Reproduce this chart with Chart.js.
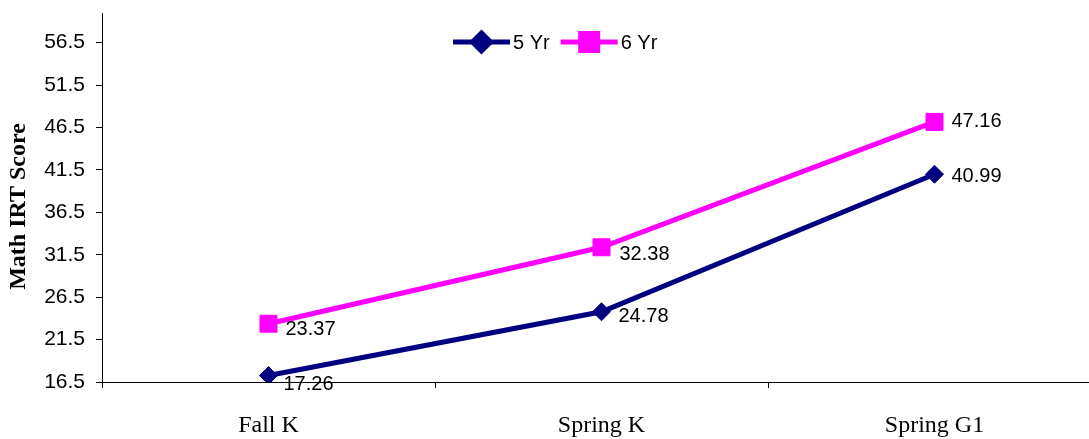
<!DOCTYPE html>
<html>
<head>
<meta charset="utf-8">
<script src="https://cdn.jsdelivr.net/npm/chart.js@4/dist/chart.umd.min.js"></script>
<style>
  html, body { margin: 0; padding: 0; background: #fff; overflow: hidden; }
  #wrap { width: 1114px; height: 439px; }
</style>
</head>
<body>
<div id="wrap"><canvas id="c" width="1114" height="439"></canvas></div>
<script>
// Survey waves on the x axis
const categories = ['Fall K', 'Spring K', 'Spring G1'];
// Mean math IRT scores by age at kindergarten entry
const fiveYr = [17.26, 24.78, 40.99];
const sixYr = [23.37, 32.38, 47.16];
// Y axis tick values
const yTicks = [16.5, 21.5, 26.5, 31.5, 36.5, 41.5, 46.5, 51.5, 56.5];

const NAVY = '#000080';
const MAGENTA = '#FF00FF';

// Value labels next to each point
const valueLabels = {
  id: 'valueLabels',
  afterDatasetsDraw(chart, args, opts) {
    const ctx = chart.ctx;
    ctx.save();
    ctx.font = '20px "Liberation Sans", Arial, sans-serif';
    ctx.fillStyle = '#000';
    ctx.textAlign = 'left';
    ctx.textBaseline = 'middle';
    chart.data.datasets.forEach((ds, di) => {
      const meta = chart.getDatasetMeta(di);
      meta.data.forEach((pt, i) => {
        const sh = opts.shift[di][i];
        ctx.fillText(ds.data[i].toFixed(2), pt.x + sh[0], pt.y + sh[1]);
      });
    });
    ctx.restore();
  }
};

// Line-and-marker legend drawn inside the plot
const lineLegend = {
  id: 'lineLegend',
  afterDraw(chart, args, opts) {
    const ctx = chart.ctx;
    ctx.save();
    ctx.font = '20px "Liberation Sans", Arial, sans-serif';
    ctx.textBaseline = 'middle';
    ctx.textAlign = 'left';
    let x = opts.x;
    const y = opts.y;
    chart.data.datasets.forEach((ds) => {
      ctx.strokeStyle = ds.borderColor;
      ctx.lineWidth = ds.borderWidth;
      ctx.beginPath();
      ctx.moveTo(x, y);
      ctx.lineTo(x + opts.lineLen, y);
      ctx.stroke();
      Chart.helpers.drawPoint(ctx, {
        pointStyle: ds.pointStyle,
        radius: ds.pointRadius,
        borderWidth: 1
      }, x + opts.lineLen / 2, y);
      ctx.fillStyle = ds.pointBackgroundColor;
      ctx.fill();
      ctx.fillStyle = '#000';
      ctx.fillText(ds.label, x + opts.lineLen + 3, y + 1);
      x += opts.lineLen + 3 + ctx.measureText(ds.label).width + 11;
    });
    ctx.restore();
  }
};

// Rotated axis title centred on the plot area
const yTitle = {
  id: 'yTitle',
  afterDraw(chart, args, opts) {
    const ctx = chart.ctx;
    const area = chart.chartArea;
    ctx.save();
    ctx.translate(opts.x, (area.top + area.bottom) / 2 + opts.dy);
    ctx.rotate(-Math.PI / 2);
    ctx.font = 'bold 24px "Liberation Serif", "Times New Roman", serif';
    ctx.fillStyle = '#000';
    ctx.textAlign = 'center';
    ctx.textBaseline = 'middle';
    ctx.fillText(opts.text, 0, 0);
    ctx.restore();
  }
};

new Chart(document.getElementById('c'), {
  type: 'line',
  data: {
    labels: categories,
    datasets: [
      {
        label: '5 Yr',
        data: fiveYr,
        borderColor: NAVY,
        backgroundColor: NAVY,
        pointBackgroundColor: NAVY,
        pointBorderColor: NAVY,
        borderWidth: 5,
        pointStyle: 'rectRot',
        pointRadius: 9,
        pointBorderWidth: 1,
        tension: 0
      },
      {
        label: '6 Yr',
        data: sixYr,
        borderColor: MAGENTA,
        backgroundColor: MAGENTA,
        pointBackgroundColor: MAGENTA,
        pointBorderColor: MAGENTA,
        borderWidth: 5,
        pointStyle: 'rect',
        pointRadius: 12,
        pointBorderWidth: 1,
        tension: 0
      }
    ]
  },
  options: {
    responsive: false,
    animation: false,
    devicePixelRatio: 1,
    layout: { padding: { left: 0, right: 11, top: 12, bottom: 0 } },
    plugins: {
      legend: { display: false },
      tooltip: { enabled: false },
      valueLabels: {
        shift: [
          [[15, 9], [17, 5], [17, 2]],
          [[17, 6], [18, 7], [17, 0]]
        ]
      },
      lineLegend: { x: 453, y: 42, lineLen: 57 },
      yTitle: { text: 'Math IRT Score', x: 19, dy: 9 }
    },
    scales: {
      x: {
        type: 'category',
        offset: true,
        grid: {
          offset: true,
          drawOnChartArea: false,
          drawTicks: true,
          tickLength: 6,
          tickColor: '#000',
          color: '#000'
        },
        border: { display: true, color: '#000', width: 1 },
        ticks: {
          color: '#000',
          padding: 23,
          font: { family: '"Liberation Serif", "Times New Roman", serif', size: 24 }
        },
        afterFit(scale) {
          scale.height = 57;
          scale.paddingLeft = 0;
          scale.paddingRight = 0;
        }
      },
      y: {
        min: 16.5,
        max: 60,
        afterBuildTicks(scale) { scale.ticks = yTicks.map(v => ({ value: v })); },
        grid: {
          drawOnChartArea: false,
          drawTicks: true,
          tickLength: 6,
          tickColor: '#000',
          color: '#000'
        },
        border: { display: true, color: '#000', width: 1 },
        ticks: {
          color: '#000',
          padding: 11,
          font: { family: '"Liberation Sans", Arial, sans-serif', size: 21 },
          callback: (v) => Number(v).toFixed(1)
        },
        afterFit(scale) {
          scale.width = 102;
          scale.paddingTop = 0;
          scale.paddingBottom = 0;
        }
      }
    }
  },
  plugins: [valueLabels, lineLegend, yTitle]
});
</script>
</body>
</html>
